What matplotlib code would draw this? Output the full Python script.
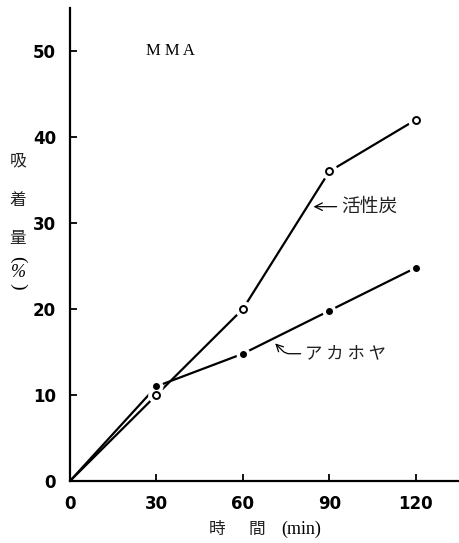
import matplotlib
matplotlib.use("Agg")
import matplotlib.pyplot as plt

plt.rcParams['font.family'] = ['Noto Sans CJK JP', 'DejaVu Sans']

# adsorption (%) vs time (min)
time_min = [0, 30, 60, 90, 120]
carbon = [0, 10, 20, 36, 42]        # 活性炭
akahoya = [0, 11, 14.8, 19.8, 24.8]  # アカホヤ

xticks = [0, 30, 60, 90, 120]
yticks = [0, 10, 20, 30, 40, 50]

fig = plt.figure(figsize=(4.59, 5.43), dpi=100)
ax = fig.add_axes([0.1525, 0.1142, 0.8475, 0.871])
ax.set_xlim(0, 135)
ax.set_ylim(0, 55)

# white halos under the markers give the small gaps in the lines
ax.plot(time_min, carbon, color='black', lw=1.6, zorder=2)
ax.plot(time_min, akahoya, color='black', lw=1.6, zorder=2)
ax.plot(time_min[1:], carbon[1:], 'o', ms=11, mfc='white', mec='white', zorder=3)
ax.plot(time_min[1:], akahoya[1:], 'o', ms=9, mfc='white', mec='white', zorder=3)
ax.plot(time_min[1:], carbon[1:], 'o', ms=5, mfc='white', mec='black', mew=1.4, zorder=4)
ax.plot(time_min[1:], akahoya[1:], 'o', ms=4, mfc='black', mec='black', zorder=4)

for s in ['top', 'right']:
    ax.spines[s].set_visible(False)
for s in ['left', 'bottom']:
    ax.spines[s].set_linewidth(1.6)

ax.set_xticks(xticks)
ax.set_yticks(yticks)
ax.tick_params(direction='in', length=5, width=1.3, pad=10)
for lab in ax.get_xticklabels() + ax.get_yticklabels():
    lab.set_fontfamily('DejaVu Sans')
    lab.set_fontweight('bold')
    lab.set_fontsize(12)

ax.text(26.5, 50, 'M M A', fontsize=12, family='Liberation Serif', va='center')

# curve labels
ax.annotate('活性炭', xy=(84.5, 31.9), xytext=(94, 31.9),
            fontsize=13.5, va='center', color='#222222',
            arrowprops=dict(arrowstyle='->', lw=0.9, color='black',
                            shrinkA=1, shrinkB=0))
ax.annotate('ア カ ホ ヤ', xy=(71.2, 16.0), xytext=(81.5, 14.8),
            fontsize=12.5, va='center', color='#222222',
            arrowprops=dict(arrowstyle='->', lw=0.9, color='black',
                            connectionstyle='angle,angleA=0,angleB=-45,rad=4',
                            shrinkA=1, shrinkB=0))

# vertical y label; parentheses turned sideways as in vertical writing
for ch, yp in [('吸', 161), ('着', 200), ('量', 238)]:
    fig.text(18 / 459, 1 - yp / 543, ch, fontsize=12, ha='center', va='center',
             color='#222222')
fig.text(18 / 459, 1 - 259 / 543, '(', fontsize=14, ha='center', va='center',
         rotation=-90, family='Liberation Serif')
fig.text(18 / 459, 1 - 272 / 543, '%', fontsize=13, ha='center', va='center',
         family='Liberation Serif', style='italic')
fig.text(18 / 459, 1 - 286 / 543, ')', fontsize=14, ha='center', va='center',
         rotation=-90, family='Liberation Serif')

# x label, all pieces on one baseline
base = 1 - 534 / 543
fig.text(217 / 459, base, '時', fontsize=12, ha='center', va='baseline', color='#222222')
fig.text(257 / 459, base, '間', fontsize=12, ha='center', va='baseline', color='#222222')
fig.text(301 / 459, base, '(min)', fontsize=13, ha='center', va='baseline',
         family='Liberation Serif')

fig.savefig('out.png', dpi=100)
